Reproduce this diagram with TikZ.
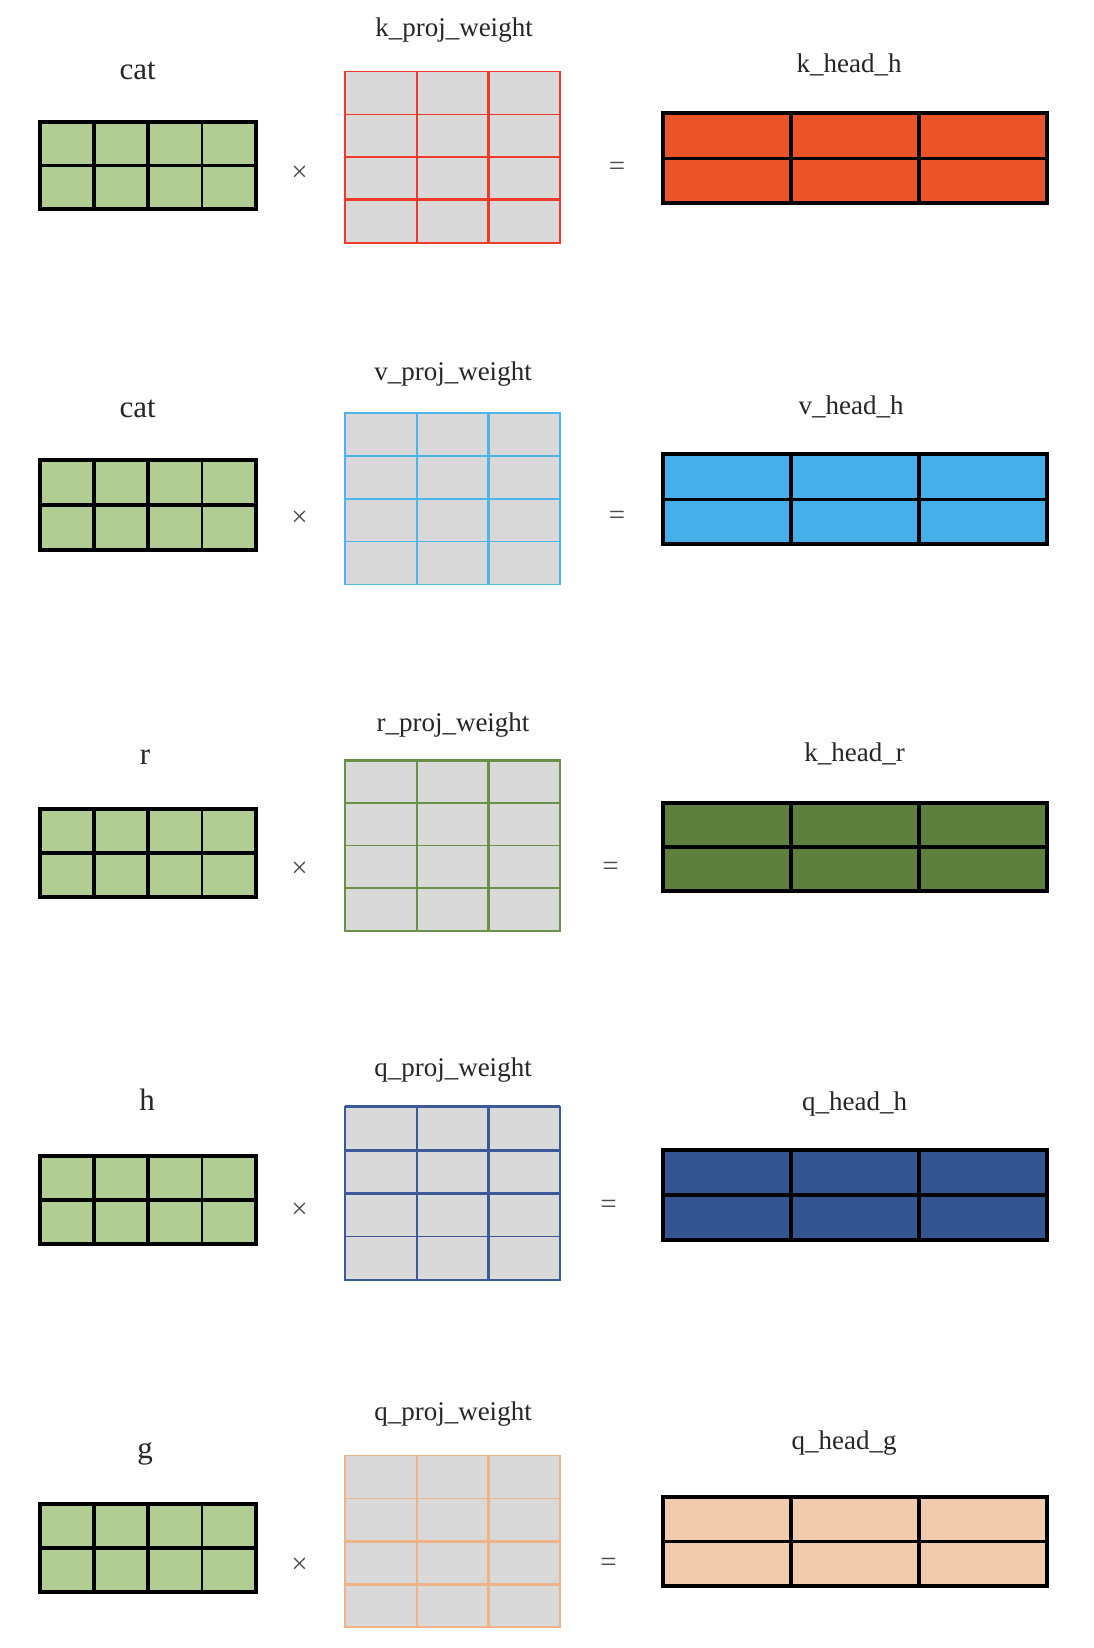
\documentclass[tikz,border=0pt]{standalone}
\usepackage{fontspec}
\setmainfont{Liberation Serif}
\definecolor{ingreen}{HTML}{B1CD94}
\definecolor{wgray}{HTML}{D9D9D9}
\definecolor{cred}{HTML}{EE3A2B}
\definecolor{forange}{HTML}{EB5428}
\definecolor{cblue}{HTML}{4FB6EC}
\definecolor{fblue}{HTML}{46AEE8}
\definecolor{cgreen}{HTML}{6A9148}
\definecolor{fgreen}{HTML}{5D803F}
\definecolor{cnavy}{HTML}{3C5A99}
\definecolor{fnavy}{HTML}{34558F}
\definecolor{cpeach}{HTML}{EFB38A}
\definecolor{fpeach}{HTML}{F0CBAE}
\newcommand\inmat[2]{%
  \fill[ingreen] (40,#1) rectangle (256,#2);
  \draw[line width=1.75pt] (94,#1) -- (94,#2);
  \draw[line width=1.75pt] (148,#1) -- (148,#2);
  \draw[line width=1.1pt] (202,#1) -- (202,#2);
  \draw[line width=1.75pt] (40,{(#1+#2)/2}) -- (256,{(#1+#2)/2});
  \draw[line width=2pt] (40,#1) rectangle (256,#2);
}
% top, bottom, colour, w(top), w(h1), w(h2), w(h3), w(v1), w(v2)
\newcommand\wmat[9]{%
  \fill[wgray] (345,#1) rectangle (560,#2);
  \draw[#3, line width=0.8pt] (345,#1) rectangle (560,#2);
  \draw[#3, line width=#4] (345,#1) -- (560,#1);
  \draw[#3, line width=#5] (345,{#1+(#2-#1)/4}) -- (560,{#1+(#2-#1)/4});
  \draw[#3, line width=#6] (345,{#1+(#2-#1)/2}) -- (560,{#1+(#2-#1)/2});
  \draw[#3, line width=#7] (345,{#1+3*(#2-#1)/4}) -- (560,{#1+3*(#2-#1)/4});
  \draw[#3, line width=#8] (417,#1) -- (417,#2);
  \draw[#3, line width=#9] (488,#1) -- (488,#2);
}
\newcommand\rmat[3]{%
  \fill[#3] (663,#1) rectangle (1047,#2);
  \draw[line width=1.6pt] (791,#1) -- (791,#2);
  \draw[line width=1.6pt] (919,#1) -- (919,#2);
  \draw[line width=1.6pt] (663,{(#1+#2)/2}) -- (1047,{(#1+#2)/2});
  \draw[line width=2pt] (663,#1) rectangle (1047,#2);
}
\begin{document}
\begin{tikzpicture}[x=0.5pt,y=-0.5pt,
  biglab/.style={anchor=base, inner sep=0pt, font=\fontsize{15.5}{18}\selectfont, text=black!85},
  lab/.style={anchor=base, inner sep=0pt, font=\fontsize{13.5}{16}\selectfont, text=black!85},
  op/.style={inner sep=0pt, font=\fontsize{14.5}{17}\selectfont, text=black!70}]
\useasboundingbox (0,0) rectangle (1093,1648);
\fill[white] (0,0) rectangle (1093,1648);

% Row 1
\inmat{122}{209}
\wmat{71.5}{242.8}{cred}{0.8pt}{0.8pt}{0.8pt}{1.5pt}{0.8pt}{1.5pt}
\rmat{113.5}{202.8}{forange}
\node[biglab] (cat1) at (137.7,79.5) {cat};
\node[lab] (kpw) at (454,36.5) {k\_proj\_weight};
\node[lab] (khh) at (849,73) {k\_head\_h};
\node[op] (x1) at (299.5,174) {×};
\node[op] (e1) at (617,169) {=};

% Row 2
\inmat{460.3}{549.7}
\wmat{413}{584.4}{cblue}{0.8pt}{0.8pt}{0.8pt}{0.8pt}{0.8pt}{1.5pt}
\rmat{454}{544.4}{fblue}
\node[biglab] (cat2) at (137.7,417) {cat};
\node[lab] (vpw) at (453,380) {v\_proj\_weight};
\node[lab] (vhh) at (851,414.5) {v\_head\_h};
\node[op] (x2) at (299.5,519) {×};
\node[op] (e2) at (617,518) {=};

% Row 3
\inmat{809}{896.5}
\wmat{760}{931}{cgreen}{1.5pt}{0.8pt}{0.8pt}{0.8pt}{0.8pt}{1.5pt}
\rmat{803}{891}{fgreen}
\node[biglab] (r) at (145,764) {r};
\node[lab] (rpw) at (453,731) {r\_proj\_weight};
\node[lab] (khr) at (854.5,761.5) {k\_head\_r};
\node[op] (x3) at (299.5,870) {×};
\node[op] (e3) at (610.6,869) {=};

% Row 4
\inmat{1156}{1244}
\wmat{1106.7}{1280}{cnavy}{1.5pt}{1.5pt}{1.5pt}{0.8pt}{0.8pt}{1.5pt}
\rmat{1150}{1240}{fnavy}
\node[biglab] (h) at (147,1110.5) {h};
\node[lab] (qpw) at (453,1076) {q\_proj\_weight};
\node[lab] (qhh) at (854.5,1110) {q\_head\_h};
\node[op] (x4) at (299.5,1210.5) {×};
\node[op] (e4) at (608.5,1207) {=};

% Row 5
\inmat{1504}{1592}
\wmat{1455.6}{1627}{cpeach}{0.8pt}{0.8pt}{1.5pt}{1.5pt}{0.8pt}{1.5pt}
\rmat{1496.6}{1586}{fpeach}
\node[biglab] (g) at (145,1458) {g};
\node[lab] (qpw2) at (453,1420.5) {q\_proj\_weight};
\node[lab] (qhg) at (844,1449) {q\_head\_g};
\node[op] (x5) at (299.5,1566) {×};
\node[op] (e5) at (608.5,1565) {=};
\end{tikzpicture}
\end{document}
